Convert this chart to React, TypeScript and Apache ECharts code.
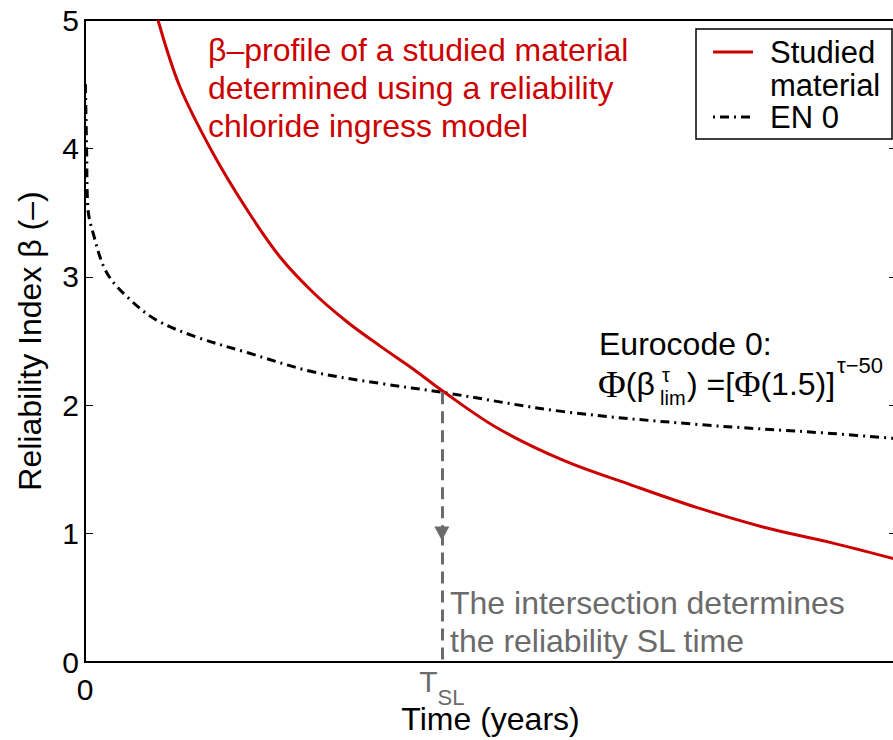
import React, { useEffect, useRef } from "react";
import * as echarts from "echarts";

// Studied material (red) β-profile
const TIME_RED = [9.0, 11.7, 15.8, 20.0, 24.1, 28.1, 32.3, 36.4, 40.5, 44.1, 50.9, 59.0, 67.3, 75.6, 83.7, 92.0, 100];
const BETA_RED = [5.0, 4.48, 3.96, 3.52, 3.15, 2.88, 2.65, 2.46, 2.28, 2.11, 1.82, 1.57, 1.38, 1.2, 1.05, 0.93, 0.8];
// Eurocode 0 (dash-dot)
const TIME_EN0 = [0.05, 0.2, 0.35, 1.0, 2.7, 5.6, 8.9, 13.8, 20.0, 28.1, 36.4, 44.1, 59.0, 75.6, 92.0, 100];
const BETA_EN0 = [4.5, 3.99, 3.54, 3.34, 3.03, 2.82, 2.66, 2.53, 2.41, 2.26, 2.17, 2.1, 1.95, 1.85, 1.78, 1.74];
// Intersection / service life
const T_SL = 44;
const BETA_SL = 2.1;
const ARROW_BETA = 1.0;
const Y_TICKS = [0, 1, 2, 3, 4, 5];

const FONT = "'Liberation Sans', Arial, Helvetica, sans-serif";
const SERIF = "'Liberation Serif', 'DejaVu Serif', serif";
const RED = "#cc0000";
const GRAY = "#6b6b6b";

export default function App() {
  const ref = useRef<HTMLDivElement>(null);
  useEffect(() => {
    if (!ref.current) return;
    const chart = echarts.init(ref.current, null, { renderer: "svg" });
    const red = TIME_RED.map((t, i) => [t, BETA_RED[i]]);
    const en0 = TIME_EN0.map((t, i) => [t, BETA_EN0[i]]);
    const txt = (text: string, x: number, y: number, size: number, fill: string, family = FONT) => ({
      type: "text",
      x,
      y,
      z: 100,
      style: { text, fontSize: size, fontFamily: family, fill, align: "left", verticalAlign: "middle" },
    });
    const option: any = {
      animation: false,
      backgroundColor: "#fff",
      grid: {
        left: 85,
        top: 20,
        right: -3,
        bottom: 78,
        outerBoundsMode: "none",
        containLabel: false,
        show: true,
        borderColor: "#000",
        borderWidth: 2,
      },
      xAxis: {
        type: "value",
        min: 0,
        max: 100,
        interval: T_SL,
        name: "Time (years)",
        nameLocation: "middle",
        nameGap: 41,
        nameMoveOverlap: false,
        nameTextStyle: { fontSize: 32, fontFamily: FONT, color: "#000" },
        axisLine: { lineStyle: { color: "#000", width: 2 } },
        axisTick: { show: false },
        splitLine: { show: false },
        axisLabel: {
          margin: 4,
          formatter: (v: number) => (v === 0 ? "{z|0}" : v === T_SL ? "{t|T}{s|SL}" : ""),
          rich: {
            z: { fontSize: 30, fontFamily: FONT, color: "#000", lineHeight: 30, padding: [8, 0, 0, 0], verticalAlign: "top" },
            t: { fontSize: 30, fontFamily: FONT, color: GRAY, lineHeight: 30, verticalAlign: "top" },
            s: { fontSize: 22, fontFamily: FONT, color: GRAY, lineHeight: 22, padding: [20, 0, 0, 0], verticalAlign: "top" },
          },
        },
      },
      yAxis: [
        {
          type: "value",
          min: Y_TICKS[0],
          max: Y_TICKS[Y_TICKS.length - 1],
          interval: 1,
          name: "Reliability Index β (–)",
          nameLocation: "middle",
          nameGap: 39,
          nameMoveOverlap: false,
          nameTextStyle: { fontSize: 32, fontFamily: FONT, color: "#000" },
          axisLine: { show: true, lineStyle: { color: "#000", width: 2 } },
          axisTick: { show: true, inside: true, length: 8, lineStyle: { color: "#000", width: 1 } },
          axisLabel: { fontSize: 30, fontFamily: FONT, color: "#000", margin: 6 },
          splitLine: { show: false },
        },
        {
          type: "value",
          position: "right",
          min: Y_TICKS[0],
          max: Y_TICKS[Y_TICKS.length - 1],
          interval: 1,
          axisLine: { show: false },
          axisTick: { show: true, inside: true, length: 7, lineStyle: { color: "#000", width: 1 } },
          axisLabel: { show: false },
          splitLine: { show: false },
        },
      ],
      series: [
        {
          type: "line",
          name: "marker",
          data: [],
          symbol: "none",
          markLine: {
            silent: true,
            animation: false,
            label: { show: false },
            lineStyle: { color: GRAY, width: 3, type: [12, 7] },
            data: [
              [
                { coord: [T_SL, BETA_SL], symbol: "none" },
                { coord: [T_SL, ARROW_BETA], symbol: "triangle", symbolSize: [15, 14] },
              ],
              [
                { coord: [T_SL, ARROW_BETA], symbol: "none" },
                { coord: [T_SL, 0], symbol: "none" },
              ],
            ],
          },
        },
        {
          type: "line",
          name: "EN 0",
          data: en0,
          symbol: "none",
          smooth: 0.35,
          lineStyle: { color: "#000", width: 3, type: [9, 5, 2, 5] },
        },
        {
          type: "line",
          name: "Studied material",
          data: red,
          symbol: "none",
          smooth: 0.35,
          lineStyle: { color: RED, width: 3 },
        },
      ],
      graphic: {
        elements: [
          // red annotation
          txt("β–profile of a studied material", 208, 50, 32, RED),
          txt("determined using a reliability", 208, 88, 32, RED),
          txt("chloride ingress model", 208, 126, 32, RED),
          // legend
          {
            type: "rect",
            z: 99,
            shape: { x: 696, y: 29, width: 196, height: 110 },
            style: { fill: "#fff", stroke: "#000", lineWidth: 1.5 },
          },
          {
            type: "line",
            z: 100,
            shape: { x1: 713, y1: 52, x2: 753, y2: 52 },
            style: { stroke: RED, lineWidth: 3 },
          },
          {
            type: "line",
            z: 100,
            shape: { x1: 713, y1: 117, x2: 753, y2: 117 },
            style: { stroke: "#000", lineWidth: 3, lineDash: [2, 5, 9, 5] },
          },
          txt("Studied", 770, 52, 31, "#000"),
          txt("material", 770, 85, 31, "#000"),
          txt("EN 0", 770, 117, 31, "#000"),
          // Eurocode formula
          txt("Eurocode 0:", 599, 344, 32, "#000"),
          {
            type: "text",
            x: 598,
            y: 384,
            z: 100,
            style: {
              text: "{f|Φ}{n|(β}",
              align: "left",
              verticalAlign: "middle",
              rich: {
                f: { fontSize: 38, fontFamily: SERIF, fill: "#000" },
                n: { fontSize: 32, fontFamily: FONT, fill: "#000" },
              },
            },
          },
          txt("τ", 662, 375, 20, "#000"),
          txt("lim", 660, 398, 20, "#000"),
          {
            type: "text",
            x: 687,
            y: 384,
            z: 100,
            style: {
              text: "{n|) =[}{f|Φ}{n|(1.5)]}",
              align: "left",
              verticalAlign: "middle",
              rich: {
                f: { fontSize: 36, fontFamily: SERIF, fill: "#000" },
                n: { fontSize: 32, fontFamily: FONT, fill: "#000" },
              },
            },
          },
          txt("τ−50", 837, 365, 22, "#000"),
          // gray annotation
          txt("The intersection determines", 450, 603, 32, GRAY),
          txt("the reliability SL time", 450, 641, 32, GRAY),
        ],
      },
    };
    chart.setOption(option);
    return () => chart.dispose();
  }, []);
  return (
    <div
      ref={ref}
      style={{ position: "absolute", left: 0, top: 0, width: 893, height: 740, background: "#fff" }}
    />
  );
}
